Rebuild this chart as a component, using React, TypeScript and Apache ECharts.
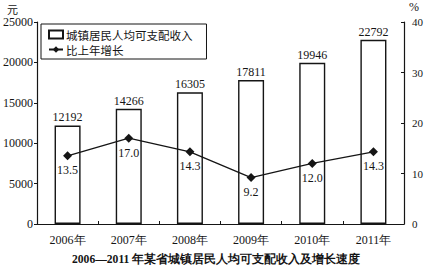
import React, { useEffect, useRef } from "react";
import * as echarts from "echarts";

const years = ["2006年", "2007年", "2008年", "2009年", "2010年", "2011年"];
const income = [12192, 14266, 16305, 17811, 19946, 22792];
const growth = [13.5, 17.0, 14.3, 9.2, 12.0, 14.3];
const incomeName = "城镇居民人均可支配收入";
const growthName = "比上年增长";
const titleText = "2006—2011 年某省城镇居民人均可支配收入及增长速度";

const INK = "#151515";
const SERIF = "Liberation Serif";
const SANS_CJK = "Noto Sans CJK SC";

export default function App() {
  const ref = useRef<HTMLDivElement>(null);
  useEffect(() => {
    if (!ref.current) return;
    const chart = echarts.init(ref.current, null, { renderer: "svg" });
    chart.setOption({
      animation: false,
      backgroundColor: "#ffffff",
      title: {
        text: titleText,
        left: 72,
        top: 253,
        padding: 0,
        textStyle: { fontSize: 11.6, fontWeight: "bold", fontFamily: SERIF, color: INK },
      },
      legend: {
        orient: "vertical",
        left: 41,
        top: 24,
        padding: [4, 14, 3, 7],
        itemGap: 2,
        itemWidth: 14,
        itemHeight: 8,
        borderColor: INK,
        borderWidth: 1,
        textStyle: { fontSize: 11.5, fontFamily: SANS_CJK, color: INK, lineHeight: 13, padding: [0, 0, 0, -2] },
        data: [{ name: incomeName, icon: "rect" }, { name: growthName }],
      },
      grid: { left: 37, right: 34, top: 22, bottom: 43 },
      xAxis: {
        type: "category",
        data: years,
        boundaryGap: true,
        axisLine: { lineStyle: { color: INK, width: 1.2 } },
        axisTick: { show: true, inside: true, length: 3, lineStyle: { color: INK } },
        axisLabel: { fontSize: 12, fontFamily: SERIF, color: INK, margin: 10 },
      },
      yAxis: [
        {
          type: "value",
          min: 0,
          max: 25000,
          interval: 5000,
          splitLine: { show: false },
          axisLine: { show: true, lineStyle: { color: INK, width: 1.2 } },
          axisTick: { show: true, length: 3, lineStyle: { color: INK } },
          axisLabel: { fontSize: 12, fontFamily: SERIF, color: INK, margin: 4, formatter: (v: number) => String(v) },
        },
        {
          type: "value",
          min: 0,
          max: 40,
          interval: 10,
          position: "right",
          splitLine: { show: false },
          axisLine: { show: true, lineStyle: { color: INK, width: 1.2 } },
          axisTick: { show: true, inside: true, length: 3, lineStyle: { color: INK } },
          axisLabel: { fontSize: 11, fontFamily: SERIF, color: INK, margin: 8, formatter: (v: number) => String(v) },
        },
      ],
      series: [
        {
          name: incomeName,
          type: "bar",
          yAxisIndex: 0,
          data: income,
          barWidth: 26,
          itemStyle: { color: "#ffffff", borderColor: INK, borderWidth: 1.4 },
          label: { show: true, position: "top", distance: 2, fontSize: 12, fontFamily: SERIF, color: INK, formatter: (p: any) => String(p.value) },
        },
        {
          name: growthName,
          type: "line",
          yAxisIndex: 1,
          data: growth,
          symbol: "diamond",
          symbolSize: 9,
          lineStyle: { color: INK, width: 1.3 },
          itemStyle: { color: INK },
          label: {
            show: true,
            position: "bottom",
            distance: 4,
            fontSize: 12,
            fontFamily: SERIF,
            color: INK,
            formatter: (p: any) => Number(p.value).toFixed(1),
          },
          z: 5,
        },
      ],
      graphic: [
        { type: "text", left: 7, top: 3, style: { text: "元", fontSize: 11, fontFamily: SANS_CJK, fill: INK } },
        { type: "text", left: 409, top: 1, style: { text: "%", fontSize: 12, fontFamily: SERIF, fill: INK } },
      ],
    });
    return () => chart.dispose();
  }, []);
  return <div ref={ref} style={{ position: "fixed", left: 0, top: 0, width: 438, height: 267, background: "#fff" }} />;
}
